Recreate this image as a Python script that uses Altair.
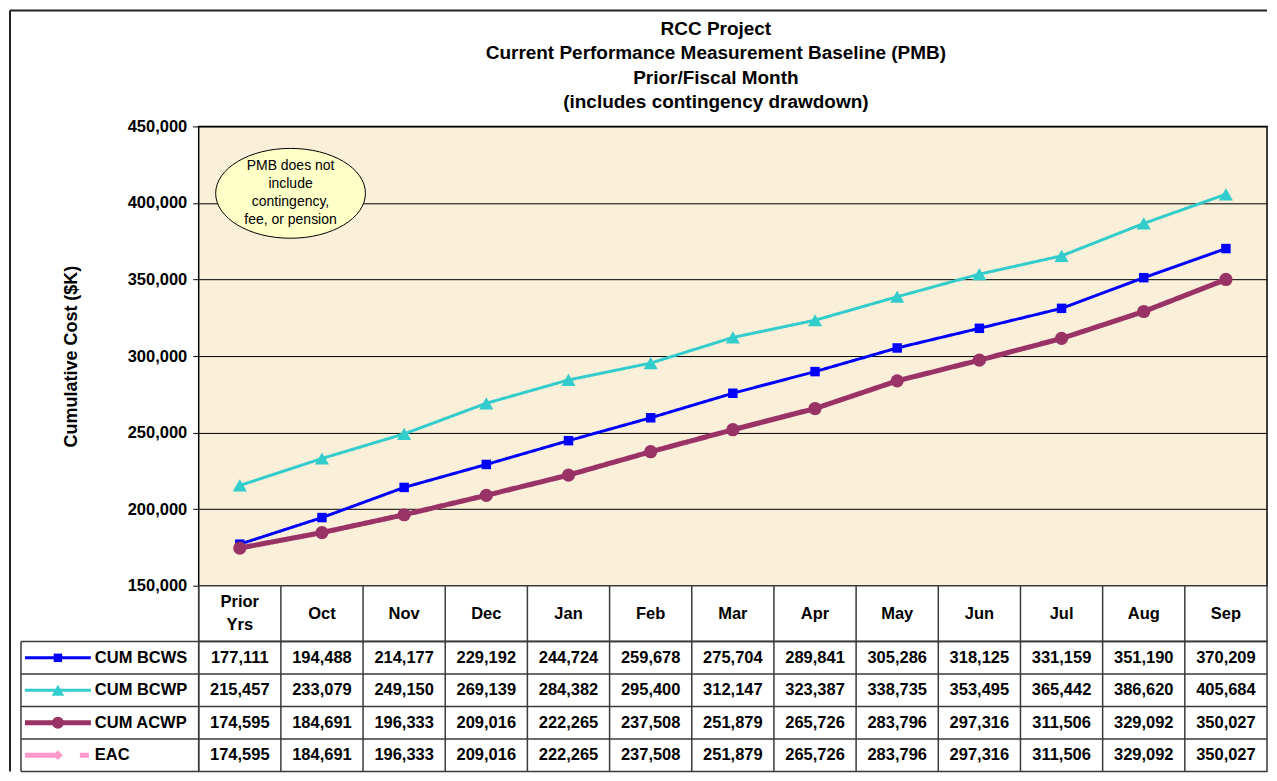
import altair as alt
import pandas as pd

# ---------------- data ----------------
categories = ["Prior Yrs", "Oct", "Nov", "Dec", "Jan", "Feb", "Mar", "Apr",
              "May", "Jun", "Jul", "Aug", "Sep"]
header_labels = ["Prior\nYrs", "Oct", "Nov", "Dec", "Jan", "Feb", "Mar", "Apr",
                 "May", "Jun", "Jul", "Aug", "Sep"]
cum_bcws = [177111, 194488, 214177, 229192, 244724, 259678, 275704, 289841,
            305286, 318125, 331159, 351190, 370209]
cum_bcwp = [215457, 233079, 249150, 269139, 284382, 295400, 312147, 323387,
            338735, 353495, 365442, 386620, 405684]
cum_acwp = [174595, 184691, 196333, 209016, 222265, 237508, 251879, 265726,
            283796, 297316, 311506, 329092, 350027]
eac = [174595, 184691, 196333, 209016, 222265, 237508, 251879, 265726,
       283796, 297316, 311506, 329092, 350027]
series_names = ["CUM BCWS", "CUM BCWP", "CUM ACWP", "EAC"]
y_ticks = [150000, 200000, 250000, 300000, 350000, 400000, 450000]
title_lines = ["RCC Project", "Current Performance Measurement Baseline (PMB)",
               "Prior/Fiscal Month", "(includes contingency drawdown)"]
note_lines = ["PMB does not", "include", "contingency,", "fee, or pension"]

# ---------------- styles ----------------
FONT = "Liberation Sans"
W = 1070
H_PLOT = 460
H_HEAD = 56
H_BODY = 130
LINE = "#3a3a3a"
TXT = 16.5
styles = {
    "CUM BCWS": dict(color="#0000FF", width=3, shape="square", size=90, dash=[1, 0], order=2),
    "CUM BCWP": dict(color="#33CCCC", width=3, shape="triangle-up", size=200, dash=[1, 0], order=1),
    "CUM ACWP": dict(color="#993366", width=5, shape="circle", size=175, dash=[1, 0], order=3),
    "EAC": dict(color="#FF99CC", width=5, shape="diamond", size=120, dash=[12, 6], order=0),
}
values_by_series = {"CUM BCWS": cum_bcws, "CUM BCWP": cum_bcwp,
                    "CUM ACWP": cum_acwp, "EAC": eac}

xscale = alt.Scale(type="band", domain=categories, paddingInner=0, paddingOuter=0)
X = alt.X("cat:N", scale=xscale, axis=None, bandPosition=0.5)
Y = alt.Y("value:Q",
          scale=alt.Scale(domain=[150000, 450000], nice=False, zero=False),
          axis=alt.Axis(values=y_ticks, labelExpr="format(datum.value, ',')",
                        title="Cumulative Cost ($K)",
                        labelFont=FONT, labelFontSize=TXT, labelFontWeight="bold",
                        labelColor="black", labelPadding=6,
                        tickColor="black", tickSize=6, tickWidth=1,
                        domain=False, grid=True, gridColor="black", gridWidth=1,
                        titleFont=FONT, titleFontSize=18, titleFontWeight="bold",
                        titleColor="black", titlePadding=47))

one = pd.DataFrame({"k": [0]})

# ---------------- top plot ----------------
layers = []
for name in sorted(series_names, key=lambda n: styles[n]["order"]):
    st = styles[name]
    df = pd.DataFrame({"cat": categories, "value": values_by_series[name], "series": name})
    layers.append(alt.Chart(df).mark_line(color=st["color"], strokeWidth=st["width"],
                                          strokeDash=st["dash"]).encode(x=X, y=Y))
    layers.append(alt.Chart(df).mark_point(shape=st["shape"], size=st["size"], filled=True,
                                           color=st["color"], opacity=1).encode(x=X, y=Y))

ellipse_path = "M -1 0 A 1 0.6 0 1 1 1 0 A 1 0.6 0 1 1 -1 0 Z"
note_ellipse = alt.Chart(one).mark_point(shape=ellipse_path, size=22500, filled=False,
                                         fill="#FFFFC8", fillOpacity=1, stroke="black",
                                         strokeWidth=1, opacity=1).encode(
    x=alt.value(92), y=alt.value(67))
note_text = alt.Chart(one).mark_text(text=note_lines, font=FONT, fontSize=14, lineHeight=18,
                                     color="black", align="center", baseline="middle",
                                     dy=-27).encode(
    x=alt.value(92), y=alt.value(67))
title_text = alt.Chart(one).mark_text(text=title_lines, font=FONT, fontSize=19,
                                      fontWeight="bold", lineHeight=24.6, color="black",
                                      align="center", baseline="top").encode(
    x=alt.value(518), y=alt.value(-107))
frame_left = alt.Chart(one).mark_rule(color="#222", strokeWidth=2).encode(
    x=alt.value(-189), y=alt.value(-116), y2=alt.value(H_PLOT + H_HEAD + H_BODY))
frame_top = alt.Chart(one).mark_rule(color="#222", strokeWidth=2).encode(
    x=alt.value(-189), x2=alt.value(W), y=alt.value(-116))

top = alt.layer(frame_left, frame_top, title_text, *layers, note_ellipse, note_text).properties(
    width=W, height=H_PLOT,
    view=alt.ViewBackground(fill="#FAEFD9", stroke="black", strokeWidth=1.5))

# ---------------- header row ----------------
cat_df = pd.DataFrame({"cat": categories, "label": header_labels})
single_df = cat_df[~cat_df["label"].str.contains("\n")]
multi_df = cat_df[cat_df["label"].str.contains("\n")]
head_text1 = alt.Chart(single_df).mark_text(font=FONT, fontSize=TXT, fontWeight="bold",
                                            color="black").encode(
    x=alt.X("cat:N", scale=xscale, axis=None, bandPosition=0.5), text="label:N")
head_text2 = alt.Chart(multi_df).mark_text(font=FONT, fontSize=TXT, fontWeight="bold",
                                           lineBreak="\n", lineHeight=23, dy=-11.5,
                                           color="black").encode(
    x=alt.X("cat:N", scale=xscale, axis=None, bandPosition=0.5), text="label:N")
head_rules = alt.Chart(cat_df).mark_rule(color=LINE, strokeWidth=1.5).encode(
    x=alt.X("cat:N", scale=xscale, axis=None, bandPosition=0))
header = alt.layer(head_rules, head_text1, head_text2).properties(
    width=W, height=H_HEAD,
    view=alt.ViewBackground(fill="white", stroke=LINE, strokeWidth=1.5))

# ---------------- table body ----------------
rows = []
for name in series_names:
    for c, v in zip(categories, values_by_series[name]):
        rows.append({"row": name, "cat": c, "txt": f"{v:,}"})
body_df = pd.DataFrame(rows)
row_df = pd.DataFrame({"row": series_names})
rscale = alt.Scale(type="band", domain=series_names, paddingInner=0, paddingOuter=0)
YR = alt.Y("row:N", scale=rscale, axis=None)

body_text = alt.Chart(body_df).mark_text(font=FONT, fontSize=TXT, fontWeight="bold",
                                         color="black").encode(
    x=alt.X("cat:N", scale=xscale, axis=None, bandPosition=0.5), y=YR, text="txt:N")
body_vrules = alt.Chart(cat_df).mark_rule(color=LINE, strokeWidth=1.5).encode(
    x=alt.X("cat:N", scale=xscale, axis=None, bandPosition=0))
body_hrules = alt.Chart(row_df).mark_rule(color=LINE, strokeWidth=1.5).encode(
    y=alt.Y("row:N", scale=rscale, axis=None, bandPosition=0),
    x=alt.value(-178), x2=alt.value(W))
leg_bottom = alt.Chart(one).mark_rule(color=LINE, strokeWidth=1.5).encode(
    x=alt.value(-178), x2=alt.value(0), y=alt.value(H_BODY))
leg_left = alt.Chart(one).mark_rule(color=LINE, strokeWidth=1.5).encode(
    x=alt.value(-178), y=alt.value(0), y2=alt.value(H_BODY))
row_labels = alt.Chart(row_df).mark_text(font=FONT, fontSize=TXT, fontWeight="bold",
                                         color="black", align="left").encode(
    x=alt.value(-104), y=YR, text="row:N")

leg_layers = []
for name in series_names:
    st = styles[name]
    d = pd.DataFrame({"row": [name]})
    if name == "EAC":
        leg_layers.append(alt.Chart(d).mark_rule(color=st["color"], strokeWidth=st["width"],
                                                 strokeDash=[31, 24, 9, 60]).encode(
            x=alt.value(-174), x2=alt.value(-108), y=YR))
    else:
        leg_layers.append(alt.Chart(d).mark_rule(color=st["color"], strokeWidth=st["width"]).encode(
            x=alt.value(-174), x2=alt.value(-108), y=YR))
    leg_layers.append(alt.Chart(d).mark_point(shape=st["shape"], size=st["size"] * 0.8,
                                              filled=True, color=st["color"], opacity=1).encode(
        x=alt.value(-141), y=YR))

body = alt.layer(body_vrules, body_hrules, leg_bottom, leg_left, body_text, row_labels,
                 *leg_layers).properties(
    width=W, height=H_BODY,
    view=alt.ViewBackground(fill="white", stroke=LINE, strokeWidth=1.5))

chart = alt.vconcat(top, header, body, spacing=0, bounds="flush").properties(
    padding={"left": 0, "top": 0, "right": 0, "bottom": 0},
    background="white")

chart.save("out.html", embed_options={"renderer": "svg", "actions": False})
